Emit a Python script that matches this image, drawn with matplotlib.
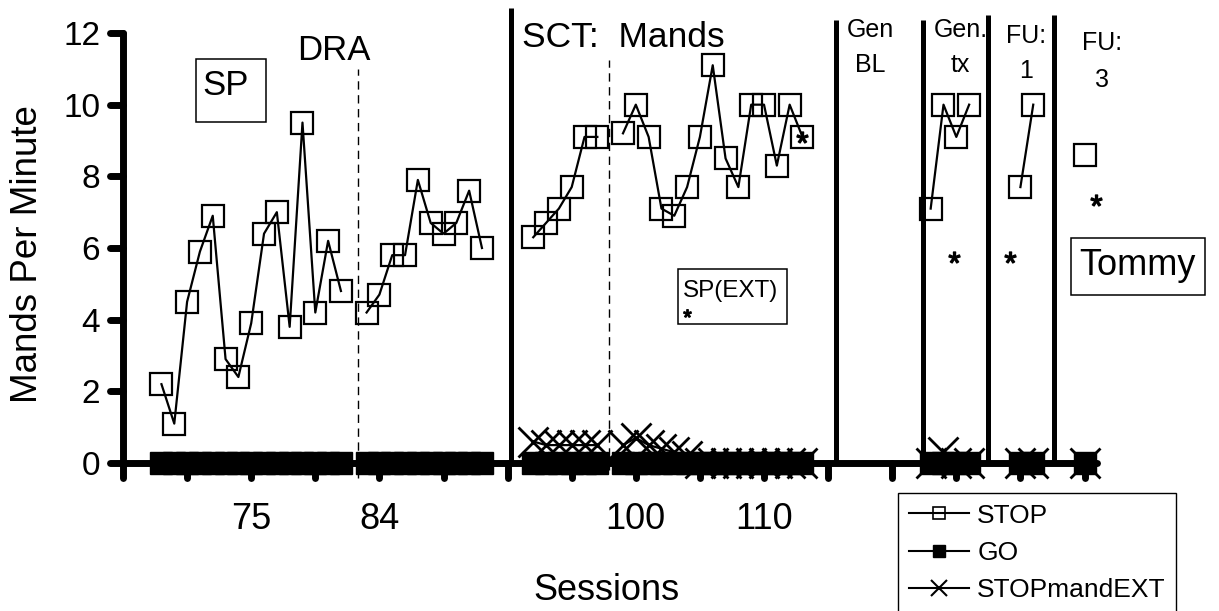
import numpy as np
import matplotlib
matplotlib.use("Agg")
import matplotlib.pyplot as plt
from matplotlib.lines import Line2D
from matplotlib.markers import MarkerStyle
from matplotlib.patches import Rectangle

plt.rcParams['font.family'] = ['Liberation Sans', 'DejaVu Sans']
plt.rcParams['mathtext.fontset'] = 'custom'
plt.rcParams['mathtext.rm'] = 'Liberation Sans'
plt.rcParams['mathtext.it'] = 'Liberation Sans'

# session slots per phase (empty slots separate the phases)
dra_a_x = list(range(3, 18))
dra_b_x = list(range(19, 29))
sct_a_x = list(range(32, 38))
sct_b_x = list(range(39, 54))
gen_tx_x = list(range(63, 67))
fu1_x = [70, 71]
fu3_x = [75]

# STOP: mands per minute
stop_dra_a = [2.2, 1.1, 4.5, 5.9, 6.9, 2.9, 2.4, 3.9, 6.4, 7.0, 3.8, 9.5, 4.2, 6.2, 4.8]
stop_dra_b = [4.2, 4.7, 5.8, 5.8, 7.9, 6.7, 6.4, 6.7, 7.6, 6.0]
stop_sct_a = [6.3, 6.7, 7.1, 7.7, 9.1, 9.1]
stop_sct_b = [9.2, 10.0, 9.1, 7.1, 6.9, 7.7, 9.1, 11.1, 8.5, 7.7, 10.0, 10.0, 8.3, 10.0, 9.1]
stop_gen_tx = [7.1, 10.0, 9.1, 10.0]
stop_fu1 = [7.7, 10.0]
stop_fu3 = [8.6]

# STOPmandEXT
ext_sct_a = [0.6, 0.5, 0.5, 0.5, 0.5, 0.5]
ext_sct_b = [0.5, 0.7, 0.5, 0.4, 0.3, 0.2, 0, 0, 0, 0, 0, 0, 0, 0, 0]
ext_gen_tx = [0, 0.3, 0, 0]
ext_fu1 = [0, 0]
ext_fu3 = [0]

# SP(EXT) sessions
ast_x = [53, 64.8, 69.2, 75.9]
ast_y = [9.1, 5.76, 5.76, 7.34]

xtick_pos = list(range(0, 80, 5))
xlabel_pos = [10, 20, 40, 50]
xlabel_text = ['75', '84', '100', '110']
yticks = [0, 2, 4, 6, 8, 10, 12]

# phase change lines
phase_x = [30.3, 55.6, 62.4, 67.45, 72.6]
phase_top = [12.7, 12.35, 12.35, 12.5, 12.5]
dash_x = [18.3, 37.9]
dash_top = [11.0, 11.25]
dash_bottom = [-0.42, -0.2]


def joined(xs, ys):
    """Concatenate segments with NaN breaks so lines don't cross phases."""
    out_x, out_y = [], []
    for sx, sy in zip(xs, ys):
        out_x += list(sx) + [np.nan]
        out_y += list(sy) + [np.nan]
    return np.array(out_x, float), np.array(out_y, float)


all_x = [dra_a_x, dra_b_x, sct_a_x, sct_b_x, gen_tx_x, fu1_x, fu3_x]
stop_x, stop_y = joined(all_x, [stop_dra_a, stop_dra_b, stop_sct_a, stop_sct_b,
                                stop_gen_tx, stop_fu1, stop_fu3])
go_x, go_y = joined(all_x, [[0] * len(s) for s in all_x])
ext_x, ext_y = joined([sct_a_x, sct_b_x, gen_tx_x, fu1_x, fu3_x],
                      [ext_sct_a, ext_sct_b, ext_gen_tx, ext_fu1, ext_fu3])

fig = plt.figure(figsize=(12.19, 6.11), dpi=100)
ax = fig.add_axes([0.1009, 0.2422, 0.7993, 0.7038])
ax.set_xlim(0, 76)
ax.set_ylim(0, 12)

for x, top in zip(phase_x, phase_top):
    ax.plot([x, x], [0, top], color='black', lw=3.6, clip_on=False, zorder=3,
            solid_capstyle='butt')
for x, top, bot in zip(dash_x, dash_top, dash_bottom):
    ax.plot([x, x], [bot, top], color='black', lw=1.0, ls=(0, (6, 4)),
            clip_on=False, zorder=3)

ax.plot(stop_x, stop_y, color='black', lw=1.6, marker='s', ms=16.5,
        mfc='none', mec='black', mew=1.6, clip_on=False, zorder=4)
ax.plot(go_x, go_y, color='black', lw=1.6, marker='s', ms=16.5,
        mfc='black', mec='black', mew=1.0, clip_on=False, zorder=5)
ax.plot(ext_x, ext_y, color='black', lw=1.6, marker='x', ms=21, mew=2.0,
        clip_on=False, zorder=6)
ax.plot(ast_x, ast_y, ls='none', marker='$*$', ms=8, color='black', zorder=6,
        clip_on=False)
ax.plot([44.0], [4.19], ls='none', marker='$*$', ms=5.5, color='black', zorder=6)

# text boxes
for (x0, x1, y0, y1) in [(5.69, 11.15, 9.52, 11.28), (43.3, 51.8, 3.88, 5.41),
                         (73.92, 84.4, 4.69, 6.27)]:
    ax.add_patch(Rectangle((x0, y0), x1 - x0, y1 - y0, fill=False, ec='black',
                           lw=1.1, clip_on=False, zorder=2))
ax.text(8.0, 10.27, 'SP', ha='center', va='baseline', fontsize=25)
ax.text(79.13, 5.25, 'Tommy', ha='center', va='baseline', fontsize=26, clip_on=False)
ax.text(43.68, 4.63, 'SP(EXT)', ha='left', va='baseline', fontsize=17.5)

ax.text(16.46, 11.25, 'DRA', ha='center', va='baseline', fontsize=25)
ax.text(31.12, 11.62, 'SCT:  Mands', ha='left', va='baseline', fontsize=25.5)
phase_labels = [(58.27, 11.90, 'Gen'), (58.27, 10.92, 'BL'),
                (65.35, 11.90, 'Gen.'), (65.3, 10.92, 'tx'),
                (70.42, 11.71, 'FU:'), (70.42, 10.74, '1'),
                (76.34, 11.53, 'FU:'), (76.4, 10.50, '3')]
for x, y, s in phase_labels:
    ax.text(x, y, s, ha='center', va='baseline', fontsize=18, clip_on=False)

for side in ['top', 'right']:
    ax.spines[side].set_visible(False)
for side in ['left', 'bottom']:
    ax.spines[side].set_linewidth(5)
    ax.spines[side].set_capstyle('round')

ax.set_yticks(yticks)
ax.set_yticklabels([str(v) for v in yticks])
ax.set_xticks(xtick_pos)
ax.set_xticklabels([xlabel_text[xlabel_pos.index(p)] if p in xlabel_pos else ''
                    for p in xtick_pos])
ax.tick_params(axis='y', direction='out', length=9.5, width=5, pad=7, labelsize=24)
ax.tick_params(axis='x', direction='out', length=10.8, width=5, pad=17, labelsize=26)
for t in ax.xaxis.get_major_ticks() + ax.yaxis.get_major_ticks():
    t.tick1line.set_marker(MarkerStyle(t.tick1line.get_marker(), capstyle='round'))

fig.text(28 / 1219, 1 - 254 / 611, 'Mands Per Minute', rotation=90, ha='center',
         va='center', fontsize=26.5)
fig.text(606 / 1219, 1 - 599.6 / 611, 'Sessions', ha='center', va='baseline',
         fontsize=26)

handles = [
    Line2D([], [], color='black', lw=1.5, marker='s', ms=9, mfc='none', mec='black', mew=1.2),
    Line2D([], [], color='black', lw=1.5, marker='s', ms=9, mfc='black', mec='black'),
    Line2D([], [], color='black', lw=1.5, marker='x', ms=11, mew=1.5),
]
leg = fig.legend(handles, ['STOP', 'GO', 'STOPmandEXT'], loc='upper left',
                 bbox_to_anchor=(898 / 1219, 1 - 493 / 611), fontsize=19,
                 frameon=True, fancybox=False, edgecolor='black', framealpha=1,
                 borderpad=0.4, handlelength=2.3, handletextpad=0.3,
                 labelspacing=0.5, borderaxespad=0)
leg.get_frame().set_linewidth(1.0)

fig.savefig('out.png', dpi=100)
